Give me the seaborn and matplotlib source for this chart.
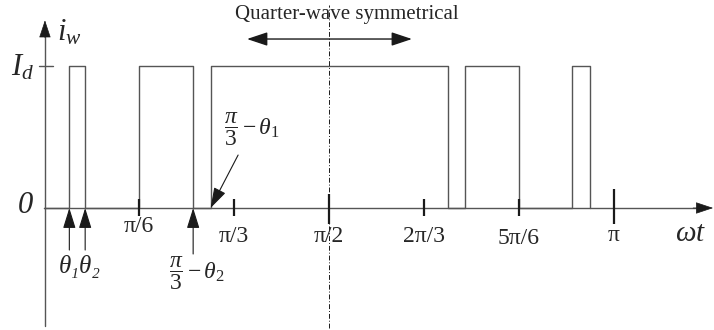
import matplotlib
matplotlib.use("Agg")
import matplotlib.pyplot as plt
import seaborn as sns
import pandas as pd
from matplotlib.patches import ArrowStyle

# Switching angles (degrees) of the current pulses over one half cycle
rise_deg = [8, 30, 52.6, 133, 166.7]
fall_deg = [13, 47.1, 127.7, 150, 172.5]
level_on = 1.0  # I_d

# Axis tick angles (degrees) and their labels
tick_deg = [30, 60, 90, 120, 150, 180]
tick_labels = ["π/6", "π/3", "π/2", "2π/3", "5π/6", "π"]

sns.set_theme(style="white")
plt.rcParams["font.family"] = ["Liberation Serif", "DejaVu Serif"]
plt.rcParams["mathtext.fontset"] = "custom"
plt.rcParams["mathtext.rm"] = "Liberation Serif"
plt.rcParams["mathtext.it"] = "Liberation Serif:italic"
plt.rcParams["mathtext.bf"] = "Liberation Serif:bold"

# Build the step waveform
pts_x, pts_y = [0.0], [0.0]
for r, f in zip(rise_deg, fall_deg):
    pts_x += [r, r, f, f]
    pts_y += [0.0, level_on, level_on, 0.0]
pts_x.append(fall_deg[-1])
pts_y.append(0.0)
wave = pd.DataFrame({"angle": pts_x, "level": pts_y})

fig = plt.figure(figsize=(7.14, 3.30), dpi=100)
ax = fig.add_axes([0, 0, 1, 1])
ax.set_xlim(-13.895, 211.58)
ax.set_ylim(-0.8592, 1.4648)
ax.axis("off")

line_c = "#555555"
sns.lineplot(data=wave, x="angle", y="level", estimator=None, sort=False,
             color=line_c, lw=1.0, ax=ax, legend=False)

# Axes with arrow heads
ax.plot([0, 209], [0, 0], color=line_c, lw=1.0)
ax.plot([0.3, 0.3], [-0.831, 1.25], color=line_c, lw=1.0)
head = ArrowStyle("-|>", head_length=0.75, head_width=0.25)
ax.annotate("", xy=(211.3, 0), xytext=(205, 0),
            arrowprops=dict(arrowstyle=head, mutation_scale=15, color="k", lw=0.5,
                            shrinkA=0, shrinkB=0))
ax.annotate("", xy=(0.3, 1.322), xytext=(0.3, 1.2),
            arrowprops=dict(arrowstyle=head, mutation_scale=15, color="k", lw=0.5,
                            shrinkA=0, shrinkB=0))

# I_d tick on the vertical axis
ax.plot([-1.6, 2.8], [level_on, level_on], color=line_c, lw=1.0)

# Tick marks on the angle axis
tick_lo = [-0.056, -0.056, -0.113, -0.056, -0.056, -0.113]
tick_hi = [0.063, 0.063, 0.099, 0.063, 0.063, 0.134]
for xd, lo, hi in zip(tick_deg, tick_lo, tick_hi):
    ax.plot([xd, xd], [lo, hi], color="k", lw=1.6, solid_capstyle="butt")
tick_y = [-0.127, -0.204, -0.204, -0.204, -0.212, -0.197]
for xd, ty, lab in zip(tick_deg, tick_y, tick_labels):
    ax.text(xd, ty, lab, ha="center", va="center", fontsize=17)

# Axis labels
ax.text(4.0, 1.235, r"$i_w$", ha="left", va="center", fontsize=22)
ax.text(-3.0, 0.99, r"$I_d$", ha="right", va="center", fontsize=22)
ax.text(-5.8, 0.02, "0", ha="center", va="center", fontsize=22, style="italic")
ax.text(204.3, -0.18, r"$\omega t$", ha="center", va="center", fontsize=21)

# Quarter-wave symmetry marker
ax.plot([90, 90], [-0.845, 1.43], color="k", lw=0.7, ls=(0, (5, 2, 1, 2)))
ax.text(95.7, 1.366, "Quarter-wave symmetrical", ha="center", va="center",
        fontsize=15)
dbl = ArrowStyle("<|-|>", head_length=0.9, head_width=0.3)
ax.annotate("", xy=(116.2, 1.19), xytext=(64.1, 1.19),
            arrowprops=dict(arrowstyle=dbl, mutation_scale=14, color="k", lw=1.0,
                            shrinkA=0, shrinkB=0))

# Angle markers
up = ArrowStyle("-|>", head_length=0.9, head_width=0.28)
for xd, y0 in [(rise_deg[0], -0.296), (fall_deg[0], -0.296), (fall_deg[1], -0.324)]:
    ax.annotate("", xy=(xd, 0), xytext=(xd, y0),
                arrowprops=dict(arrowstyle=up, mutation_scale=14, color="k",
                                lw=0.8, shrinkA=0, shrinkB=0))
ax.annotate("", xy=(rise_deg[2], 0.0), xytext=(61.3, 0.373),
            arrowprops=dict(arrowstyle=up, mutation_scale=14, color="k",
                            lw=0.8, shrinkA=0, shrinkB=0))

ax.text(11.4, -0.415, "θ₁θ₂", ha="center", va="center", fontsize=18,
        style="italic", family=["Liberation Serif", "DejaVu Serif"])
ax.text(48.3, -0.458, r"$\dfrac{\pi}{3}-\theta_2$", ha="center", va="center",
        fontsize=17)
ax.text(65.7, 0.556, r"$\dfrac{\pi}{3}-\theta_1$", ha="center", va="center",
        fontsize=17)

fig.savefig("out.png", dpi=100)
